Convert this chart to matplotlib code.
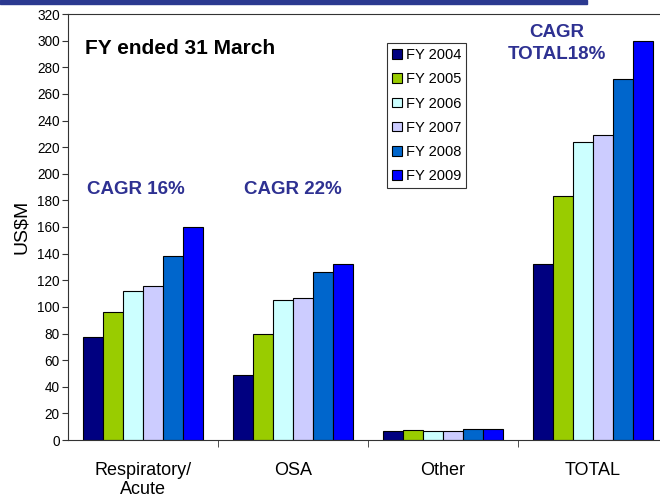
import numpy as np
import matplotlib
matplotlib.use("Agg")
from matplotlib import pyplot as plt
from matplotlib.patches import Rectangle

# Dados (US$M)
categories = ["Respiratory/\nAcute", "OSA", "Other", "TOTAL"]
years = ["FY 2004", "FY 2005", "FY 2006", "FY 2007", "FY 2008", "FY 2009"]
fy2004 = [77, 49, 6.5, 132]
fy2005 = [96, 80, 7.5, 183]
fy2006 = [112, 105, 6.5, 224]
fy2007 = [116, 107, 6.5, 229]
fy2008 = [138, 126, 8, 271]
fy2009 = [160, 132, 8, 300]
series = [fy2004, fy2005, fy2006, fy2007, fy2008, fy2009]
colors = ["#000080", "#99CC00", "#CCFFFF", "#CCCCFF", "#0066CC", "#0000FF"]

plt.rcParams['font.family'] = ['Liberation Sans', 'DejaVu Sans']

fig = plt.figure(figsize=(6.6, 5.01), dpi=100)
ax = fig.add_axes([68 / 660, 1 - 440 / 501, 600 / 660, 426 / 501])

# faixa azul do topo do slide
fig.patches.append(Rectangle((0, 1 - 4 / 501), 0.89, 4 / 501, transform=fig.transFigure,
                             color="#2B3990", zorder=5))

x = np.arange(len(categories))
w = 0.8 / 6
for i, vals in enumerate(series):
    ax.bar(x - 0.4 + w * (i + 0.5), vals, w, color=colors[i], edgecolor="black",
           linewidth=0.8, label=years[i])

ax.set_xlim(-0.5, 3.5)
ax.set_ylim(0, 320)
ax.set_yticks(range(0, 321, 20))
ax.set_xticks(x)
ax.set_xticklabels(categories, fontsize=13, linespacing=1.1)
ax.set_xticks([0.5, 1.5, 2.5], minor=True)
ax.tick_params(axis='x', which='major', length=0, pad=16)
ax.tick_params(axis='x', which='minor', length=5, color="#333333")
ax.tick_params(axis='y', labelsize=9.8, length=4, color="#333333", pad=2)
ax.set_ylabel("US$M", fontsize=14, labelpad=5)
for s in ["left", "bottom", "top"]:
    ax.spines[s].set_color("#333333")
ax.spines["right"].set_visible(False)

# Textos
ax.text(0.028, 0.918, "FY ended 31 March", transform=ax.transAxes, fontsize=15,
        fontweight="bold", va="center")
navy = "#2E3192"
ax.text(-0.05, 188, "CAGR 16%", fontsize=13.5, fontweight="bold", color=navy, ha="center", va="center")
ax.text(1.0, 188, "CAGR 22%", fontsize=13.5, fontweight="bold", color=navy, ha="center", va="center")
ax.text(2.76, 298, "CAGR\nTOTAL18%", fontsize=13.5, fontweight="bold", color=navy,
        ha="center", va="center", linespacing=1.38)

leg = ax.legend(loc="upper left", bbox_to_anchor=((387 - 68) / 600, 1 - 29 / 426),
                fontsize=10.5, frameon=True, fancybox=False, edgecolor="black",
                handlelength=0.65, handleheight=0.65, handletextpad=0.3,
                labelspacing=0.7, borderpad=0.35, borderaxespad=0)
leg.get_frame().set_linewidth(0.8)

fig.savefig("out.png", dpi=100)
